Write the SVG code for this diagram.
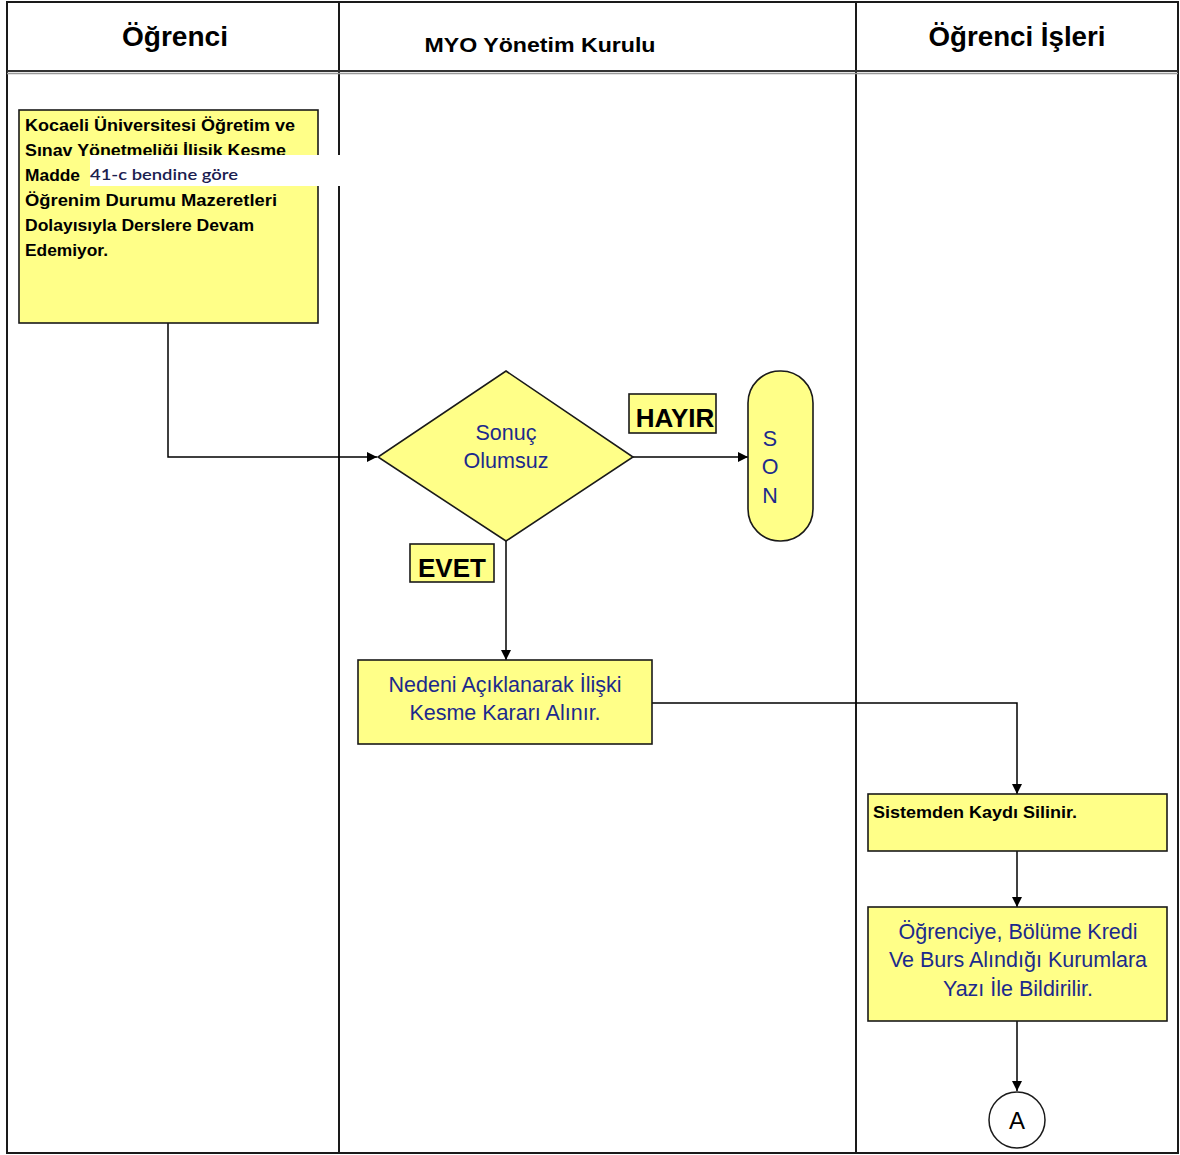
<svg xmlns="http://www.w3.org/2000/svg" width="1180" height="1155" viewBox="0 0 1180 1155">
<style>
.lane{fill:none;stroke:#1a1a1a;stroke-width:2}
.box{fill:#ffff88;stroke:#1a1a1a;stroke-width:1.6}
.hdr{font-family:"Liberation Sans",Arial,sans-serif;font-weight:bold;fill:#000;text-anchor:middle}
.bt{font-family:"Liberation Sans",Arial,sans-serif;font-weight:bold;font-size:16px;fill:#000}
.blue{font-family:"Liberation Sans",Arial,sans-serif;font-size:21.5px;fill:#1c2a8c;text-anchor:middle}
.lbl{font-family:"Liberation Sans",Arial,sans-serif;font-weight:bold;font-size:26px;fill:#000;text-anchor:middle}
.con{fill:none;stroke:#000;stroke-width:1.5}
</style>
<defs>
<marker id="ah" viewBox="0 0 10 10" refX="10" refY="5" markerWidth="10" markerHeight="10" markerUnits="userSpaceOnUse" orient="auto">
<path d="M0,0 L10,5 L0,10 z" fill="#000"/>
</marker>
</defs>
<rect width="1180" height="1155" fill="#fff"/>
<g id="lanes">
<rect class="lane" x="7" y="2" width="1171" height="1151"/>
<line x1="339" y1="2" x2="339" y2="1153" class="lane"/>
<line x1="856" y1="2" x2="856" y2="1153" class="lane"/>
<line x1="7" y1="71" x2="1178" y2="71" stroke="#333" stroke-width="2"/>
<line x1="7" y1="73.5" x2="1178" y2="73.5" stroke="#999" stroke-width="1.5"/>
<text class="hdr" x="175" y="46" font-size="27" textLength="106" lengthAdjust="spacingAndGlyphs">Öğrenci</text>
<text class="hdr" x="540" y="52" font-size="20" textLength="231" lengthAdjust="spacingAndGlyphs">MYO Yönetim Kurulu</text>
<text class="hdr" x="1017" y="46" font-size="27" textLength="177" lengthAdjust="spacingAndGlyphs">Öğrenci İşleri</text>
</g>
<g id="connectors">
<polyline class="con" points="168,323 168,457 377,457" marker-end="url(#ah)"/>
<line class="con" x1="633" y1="457" x2="748" y2="457" marker-end="url(#ah)"/>
<line class="con" x1="506" y1="541" x2="506" y2="660" marker-end="url(#ah)"/>
<polyline class="con" points="652,703 1017,703 1017,794" marker-end="url(#ah)"/>
<line class="con" x1="1017" y1="851" x2="1017" y2="907" marker-end="url(#ah)"/>
<line class="con" x1="1017" y1="1021" x2="1017" y2="1091" marker-end="url(#ah)"/>
</g>
<g id="n1">
<rect class="box" x="19" y="110" width="299" height="213"/>
<text class="bt" x="25" y="131" textLength="270" lengthAdjust="spacingAndGlyphs">Kocaeli Üniversitesi Öğretim ve</text>
<text class="bt" x="25" y="156" textLength="261" lengthAdjust="spacingAndGlyphs">Sınav Yönetmeliği İlisik Kesme</text>
<rect x="90" y="155" width="252" height="31" fill="#fff"/>
<text class="bt" x="25" y="181" textLength="55" lengthAdjust="spacingAndGlyphs">Madde</text>
<text x="90" y="180" font-family="Lato,'Open Sans',sans-serif" font-size="16" font-weight="600" fill="#1a2050" textLength="148" lengthAdjust="spacingAndGlyphs">41-c bendine göre</text>
<text class="bt" x="25" y="206" textLength="252" lengthAdjust="spacingAndGlyphs">Öğrenim Durumu Mazeretleri</text>
<text class="bt" x="25" y="231" textLength="229" lengthAdjust="spacingAndGlyphs">Dolayısıyla Derslere Devam</text>
<text class="bt" x="25" y="256" textLength="83" lengthAdjust="spacingAndGlyphs">Edemiyor.</text>
</g>
<g id="n2">
<polygon class="box" points="506,371 633,457 506,541 378,457"/>
<text class="blue" x="506" y="440">Sonuç</text>
<text class="blue" x="506" y="468">Olumsuz</text>
</g>
<g id="hayir">
<rect class="box" x="629" y="394" width="87" height="39"/>
<text class="lbl" x="675" y="427">HAYIR</text>
</g>
<g id="son">
<rect class="box" x="748" y="371" width="65" height="170" rx="32" ry="32"/>
<text class="blue" x="770" y="446" font-size="20">S</text>
<text class="blue" x="770" y="474" font-size="20">O</text>
<text class="blue" x="770" y="503" font-size="20">N</text>
</g>
<g id="evet">
<rect class="box" x="410" y="544" width="84" height="38"/>
<text class="lbl" x="452" y="577">EVET</text>
</g>
<g id="n3">
<rect class="box" x="358" y="660" width="294" height="84"/>
<text class="blue" x="505" y="692">Nedeni Açıklanarak İlişki</text>
<text class="blue" x="505" y="720">Kesme Kararı Alınır.</text>
</g>
<g id="n4">
<rect class="box" x="868" y="794" width="299" height="57"/>
<text class="bt" x="873" y="818" textLength="204" lengthAdjust="spacingAndGlyphs">Sistemden Kaydı Silinir.</text>
</g>
<g id="n5">
<rect class="box" x="868" y="907" width="299" height="114"/>
<text class="blue" x="1018" y="939">Öğrenciye, Bölüme Kredi</text>
<text class="blue" x="1018" y="967">Ve Burs Alındığı Kurumlara</text>
<text class="blue" x="1018" y="996">Yazı İle Bildirilir.</text>
</g>
<g id="a">
<circle cx="1017" cy="1120" r="28" fill="#fff" stroke="#1a1a1a" stroke-width="1.5"/>
<text x="1017" y="1129" font-family="Liberation Sans,Arial,sans-serif" font-size="24" text-anchor="middle" fill="#000">A</text>
</g>
</svg>
